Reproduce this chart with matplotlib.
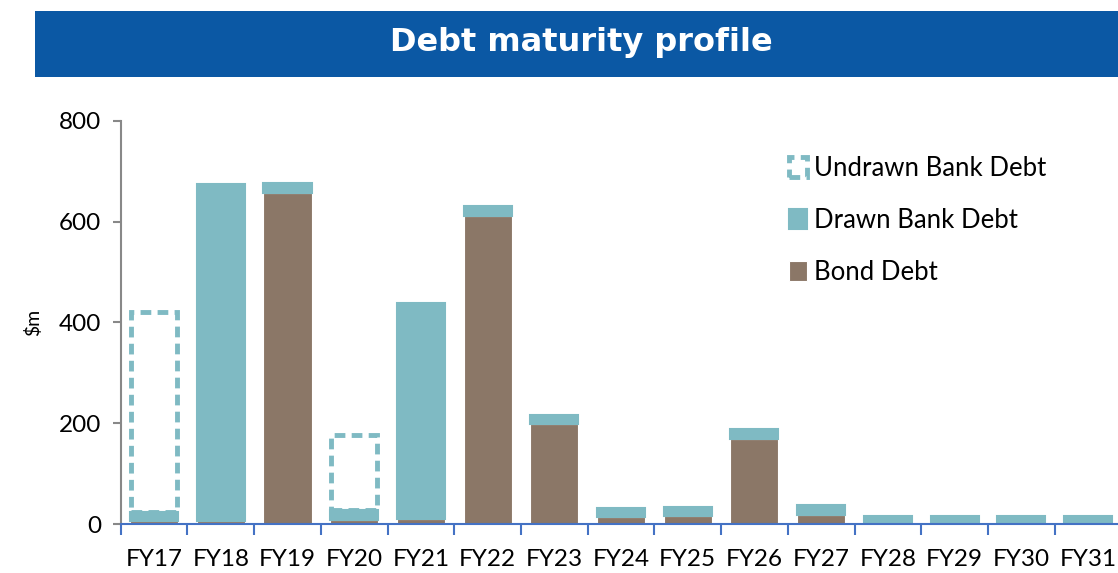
import numpy as np
import matplotlib.pyplot as plt
from matplotlib.patches import Rectangle

# values ($m)
years = ["FY17", "FY18", "FY19", "FY20", "FY21", "FY22", "FY23", "FY24",
         "FY25", "FY26", "FY27", "FY28", "FY29", "FY30", "FY31"]
bond = [5, 5, 657, 8, 9, 611, 198, 13, 15, 168, 18, 0, 0, 0, 0]
drawn = [19, 670, 19, 20, 429, 20, 18, 19, 19, 20, 20, 16, 16, 16, 16]
undrawn = [396, 0, 0, 149, 0, 0, 0, 0, 0, 0, 0, 0, 0, 0, 0]

teal = "#7FBAC3"
brown = "#8B7767"
blue = "#0B58A4"

fig = plt.figure(figsize=(11.18, 5.73), dpi=100)

# title banner
fig.patches.append(Rectangle((0.031, 0.866), 0.969, 0.115, transform=fig.transFigure,
                             facecolor=blue, edgecolor="none"))
fig.text(0.52, 0.926, "Debt maturity profile", color="white", fontsize=23,
         fontweight="bold", family="DejaVu Sans", ha="center", va="center")

ax = fig.add_axes([0.108, 0.0855, 0.895, 0.7035])
x = np.arange(len(years))
w = 0.72

b1 = ax.bar(x, bond, w, color=brown, edgecolor="white", linewidth=0.8, label="Bond Debt")
b2 = ax.bar(x, drawn, w, bottom=bond, color=teal, edgecolor=teal, linewidth=1.5,
            label="Drawn Bank Debt")
base = np.array(bond) + np.array(drawn)
b3 = ax.bar(x, undrawn, w * 0.95, bottom=base, facecolor="none", edgecolor=teal,
            linewidth=3.5, linestyle=(0, (2.2, 1.3)), label="Undrawn Bank Debt")
for i, u in enumerate(undrawn):
    if u == 0:
        b3[i].set_visible(False)

ax.set_xlim(-0.5, 14.42)
ax.set_ylim(0, 800)
ax.set_yticks([0, 200, 400, 600, 800])
ax.set_xticks(x)
ax.set_xticklabels(years)
ax.set_xticks(np.arange(-0.5, 15, 1), minor=True)
ax.tick_params(axis="x", which="major", length=0, pad=18, labelsize=17.5)
ax.tick_params(axis="x", which="minor", length=8, width=1.5, color="#4472C4", direction="out")
ax.tick_params(axis="y", length=6, width=1.5, color="#888888", labelsize=17.5, pad=8)
for lbl in ax.get_xticklabels() + ax.get_yticklabels():
    lbl.set_family("Lato")

for s in ["top", "right"]:
    ax.spines[s].set_visible(False)
ax.spines["left"].set_color("#888888")
ax.spines["left"].set_linewidth(1.5)
ax.spines["bottom"].set_color("#4472C4")
ax.spines["bottom"].set_linewidth(1.5)

ax.set_ylabel("$m", fontsize=14, family="Lato", labelpad=12)

leg = ax.legend(handles=[b3, b2, b1], loc="upper left", bbox_to_anchor=(0.645, 0.97),
                frameon=False, prop={"family": "Lato", "size": 18.5},
                labelspacing=1.05, handlelength=0.7, handleheight=0.8, handletextpad=0.25)

fig.savefig("out.png", dpi=100)
